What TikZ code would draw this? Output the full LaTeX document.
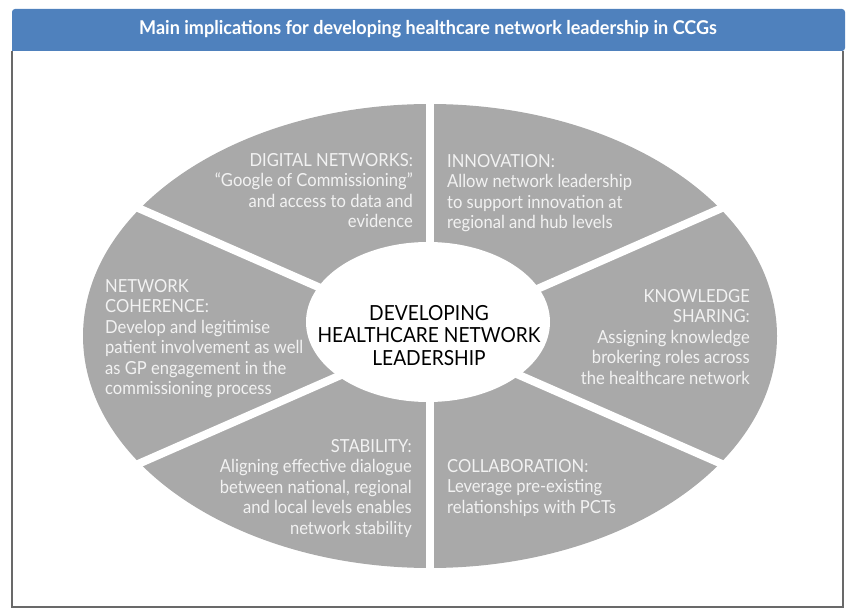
\documentclass[tikz,border=0pt]{standalone}
\usepackage{fontspec}
\setmainfont{Lato}
\newfontfamily\narrowfont[FakeStretch=0.92]{Lato}
\newfontfamily\titlefont[FakeStretch=0.95]{Lato}
\definecolor{hdrblue}{RGB}{79,129,189}
\definecolor{sectgray}{RGB}{169,169,169}
\definecolor{sectxt}{RGB}{242,242,242}
\definecolor{boxline}{RGB}{105,105,105}
\begin{document}
\begin{tikzpicture}[x=1pt,y=-1pt,
  sectext/.style={inner sep=0pt,text=sectxt,font=\narrowfont\fontsize{18}{20.5}\selectfont},
  gapline/.style={white,line width=8pt}]
\useasboundingbox (0,0) rectangle (849,609);
% frame
\draw[boxline,line width=1.3pt] (12,51) -- (12,607) -- (843,607) -- (843,51);
\fill[hdrblue,rounded corners=3pt] (12,51) -- (12,9) -- (845,9) -- (845,51) [sharp corners] -- cycle;
\node[inner sep=0pt,text=white,font=\titlefont\bfseries\fontsize{19}{22}\selectfont] (title) at (428,29)
  {Main implications for developing healthcare network leadership in CCGs};
% ellipse
\coordinate (c) at (430,336);
\fill[sectgray] (c) ellipse [x radius=347, y radius=232];
\draw[gapline] (c) -- (430,80);
\draw[gapline] (c) -- (430,590);
\draw[gapline] (c) -- (30,160.6);
\draw[gapline] (c) -- (30,511.4);
\draw[gapline] (c) -- (830,160.6);
\draw[gapline] (c) -- (830,511.4);
\fill[white] (428,322) ellipse [x radius=122, y radius=80];
% centre
\node[inner sep=0pt,anchor=north,align=center,font=\narrowfont\fontsize{20.8}{22.5}\selectfont] (hub) at (429,305)
  {DEVELOPING\\HEALTHCARE NETWORK\\LEADERSHIP};
% sectors
\node[sectext,anchor=north east,align=right] (digital) at (413,153)
  {DIGITAL NETWORKS:\\“Google of Commissioning”\\and access to data and\\evidence};
\node[sectext,anchor=north west,align=left] (innov) at (447,154)
  {INNOVATION:\\Allow network leadership\\to support innovation at\\regional and hub levels};
\node[sectext,anchor=north east,align=right] (knowl) at (750,289)
  {KNOWLEDGE\\SHARING:\\Assigning knowledge\\brokering roles across\\the healthcare network};
\node[sectext,anchor=north west,align=left] (coher) at (105,279)
  {NETWORK\\COHERENCE:\\Develop and legitimise\\patient involvement as well\\as GP engagement in the\\commissioning process};
\node[sectext,anchor=north east,align=right] (stab) at (412,439)
  {STABILITY:\\Aligning effective dialogue\\between national, regional\\and local levels enables\\network stability};
\node[sectext,anchor=north west,align=left] (collab) at (447,459)
  {COLLABORATION:\\Leverage pre-existing\\relationships with PCTs};
\end{tikzpicture}
\end{document}
